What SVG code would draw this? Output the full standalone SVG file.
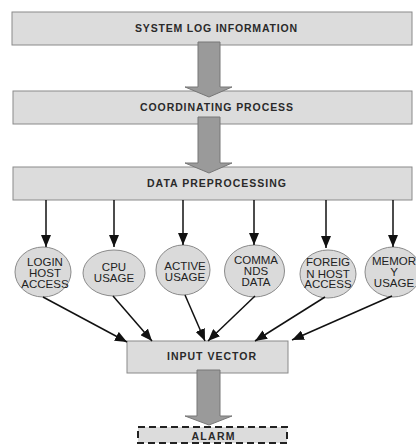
<svg xmlns="http://www.w3.org/2000/svg" width="416" height="444" viewBox="0 0 416 444">
<defs>
<style>
.box{fill:#dcdcdc;stroke:#8a8a8a;stroke-width:1}
.dash{fill:#dcdcdc;stroke:#222;stroke-width:2;stroke-dasharray:7,4}
.ell{fill:#dadada;stroke:#8a8a8a;stroke-width:1}
.bt{font-family:"Liberation Sans",Arial,sans-serif;font-size:10.5px;font-weight:bold;fill:#2a2a2a;text-anchor:middle}
.et{font-family:"Liberation Sans",Arial,sans-serif;font-size:11.5px;fill:#222;text-anchor:middle}
.fat{fill:#9a9a9a;stroke:#777;stroke-width:1}
.ln{stroke:#111;stroke-width:1.5;fill:none;marker-end:url(#ah)}
</style>
<marker id="ah" viewBox="0 0 12 10" refX="12" refY="5" markerWidth="12" markerHeight="10" markerUnits="userSpaceOnUse" orient="auto">
<path d="M0,0 L12,5 L0,10 z" fill="#111"/>
</marker>
</defs>
<rect width="416" height="444" fill="#fff"/>
<g id="n-syslog"><rect class="box" x="12" y="12" width="400" height="33"/><text class="bt" x="216" y="32" textLength="162" lengthAdjust="spacing">SYSTEM LOG INFORMATION</text></g>
<g id="n-coord"><rect class="box" x="13" y="91" width="399" height="33"/><text class="bt" x="216.5" y="111" textLength="153" lengthAdjust="spacing">COORDINATING PROCESS</text></g>
<g id="n-prep"><rect class="box" x="13" y="167" width="399" height="33"/><text class="bt" x="216.5" y="187" textLength="139" lengthAdjust="spacing">DATA PREPROCESSING</text></g>
<g id="n-login"><ellipse class="ell" cx="43" cy="272" rx="28" ry="25"/><text class="et" x="45" y="266">LOGIN</text><text class="et" x="45" y="277">HOST</text><text class="et" x="45" y="288">ACCESS</text></g>
<g id="n-cpu"><ellipse class="ell" cx="114" cy="273" rx="31" ry="23"/><text class="et" x="114" y="271">CPU</text><text class="et" x="114" y="282">USAGE</text></g>
<g id="n-active"><ellipse class="ell" cx="183" cy="270" rx="27" ry="25"/><text class="et" x="185" y="269.5">ACTIVE</text><text class="et" x="185" y="280.5">USAGE</text></g>
<g id="n-commands"><ellipse class="ell" cx="254.5" cy="271" rx="30" ry="26"/><text class="et" x="256" y="264">COMMA</text><text class="et" x="256" y="275">NDS</text><text class="et" x="256" y="286">DATA</text></g>
<g id="n-foreign"><ellipse class="ell" cx="328" cy="274" rx="28" ry="24"/><text class="et" x="328" y="266">FOREIG</text><text class="et" x="328" y="277.5">N HOST</text><text class="et" x="328" y="288">ACCESS</text></g>
<g id="n-memory"><ellipse class="ell" cx="393" cy="272" rx="28" ry="25"/><text class="et" x="394" y="264.5">MEMOR</text><text class="et" x="394" y="276">Y</text><text class="et" x="394" y="287">USAGE</text></g>
<g id="n-input"><rect class="box" x="127" y="341" width="161" height="32"/><text class="bt" x="211.5" y="360" textLength="89" lengthAdjust="spacing">INPUT VECTOR</text></g>
<g id="n-alarm"><rect class="dash" x="138" y="427" width="149" height="16"/><text class="bt" x="213" y="439.5" textLength="43" lengthAdjust="spacing">ALARM</text></g>
<g id="connectors">
<path class="fat" d="M198,42 H220 V87 H232 L209,97 L185,87 H198 Z"/>
<path class="fat" d="M198,117 H220 V163 H232 L209,173 L185,163 H198 Z"/>
<path class="fat" d="M197,370 H220 V416 H232 L209,425 L185,416 H197 Z"/>
<line class="ln" x1="46" y1="200" x2="46" y2="247"/>
<line class="ln" x1="114" y1="200" x2="114" y2="247"/>
<line class="ln" x1="183" y1="200" x2="183" y2="245"/>
<line class="ln" x1="254" y1="200" x2="254" y2="245"/>
<line class="ln" x1="326" y1="200" x2="326" y2="248"/>
<line class="ln" x1="393" y1="200" x2="393" y2="247"/>
<line class="ln" x1="43" y1="297" x2="127" y2="342"/>
<line class="ln" x1="113" y1="296" x2="152" y2="341"/>
<line class="ln" x1="185" y1="295" x2="205" y2="341"/>
<line class="ln" x1="255" y1="296" x2="208" y2="341"/>
<line class="ln" x1="325" y1="297" x2="255" y2="341"/>
<line class="ln" x1="392" y1="296" x2="292" y2="340"/>
</g>
</svg>
